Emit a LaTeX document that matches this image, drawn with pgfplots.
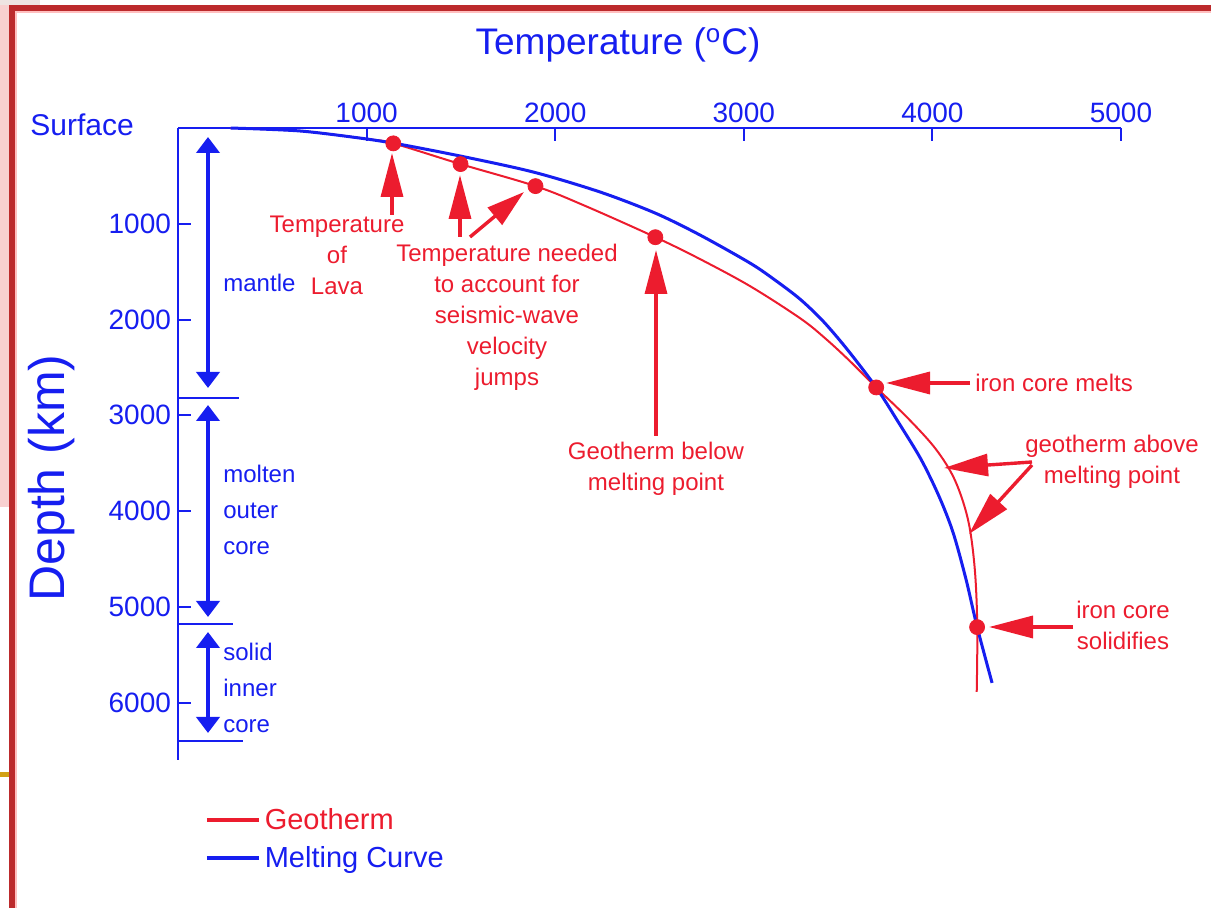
\documentclass[border=0pt]{standalone}
\usepackage{fontspec}
\setmainfont{Liberation Sans}
\usepackage{pgfplots}
\pgfplotsset{compat=1.18}
\usetikzlibrary{arrows.meta}

\definecolor{geored}{RGB}{236,28,46}
\definecolor{melblue}{RGB}{22,30,240}
\definecolor{framered}{RGB}{188,42,44}
\definecolor{framepink}{RGB}{248,208,208}
\definecolor{framepale}{RGB}{238,228,226}
\definecolor{frameyellow}{RGB}{210,160,20}

\begin{document}
\begin{tikzpicture}
\path[use as bounding box] (0,0) rectangle (605.5pt,-454pt);

% slide frame (pixel coordinates, y down)
\begin{scope}[x=0.5pt,y=-0.5pt]
\fill[framepale] (0,0) rectangle (40,5);
\fill[framepink] (0,5) rectangle (9,507);
\fill[frameyellow] (0,772) rectangle (9,777);
\fill[framered] (9,5) rectangle (1211,11);
\fill[framered] (9,5) rectangle (15,908);
\fill[red!25] (15,11) rectangle (17,908);
\fill[red!25] (15,11) rectangle (1211,13);
\end{scope}

\begin{axis}[
  at={(89pt,-380pt)}, anchor=south west,
  scale only axis, width=471.5pt, height=316pt,
  xmin=0, xmax=5000, ymin=0, ymax=6600, y dir=reverse,
  axis x line*=top, axis y line*=left,
  axis line style={melblue, line width=1pt},
  xtick={1000,2000,3000,4000,5000},
  ytick={1000,2000,3000,4000,5000,6000},
  tick align=inside, major tick length=6.5pt,
  tick style={melblue, line width=1pt},
  ticklabel style={font=\fontsize{14}{14}\selectfont, text=melblue},
  xticklabel style={yshift=-1pt},
  /pgf/number format/assume math mode=true,
  /pgf/number format/1000 sep={},
  clip=false,
  legend style={at={(axis cs:140,7060)}, anchor=north west, draw=none, fill=none,
    font=\fontsize{14.5}{14.5}\selectfont, row sep=3pt, inner sep=0pt},
  legend cell align=left,
  legend image code/.code={\draw[#1, line width=2pt] (0pt,0pt) -- (26pt,0pt);},
]
\addplot[geored, line width=1pt, smooth, tension=0.55] table {
T D
279.5 0
650.3 31.4
1003.7 115.1
1141.5 160.2
1498 376.6
1895.4 606.7
2149.7 805.4
2531.1 1140.1
2769.5 1370.3
3034.4 1652.7
3299.3 1987.4
3431.8 2196.6
3564.2 2437.2
3702.0 2709.1
3876.8 3043.9
4019.9 3357.7
4120.0 3680.0
4190.0 4100.0
4225.0 4612.9
4238.0 5215.0
4235.0 5889.0
};
\addlegendentry{\textcolor{geored}{Geotherm}}
\addplot[melblue, line width=1.5pt, smooth, tension=0.5] table {
T D
279.5 0
650.3 31.4
1003.7 115.1
1141.5 156.9
1498 292.9
1884.8 460.2
2239.7 669.4
2531.1 889.1
2769.5 1119.2
3034.4 1412.1
3166.9 1589.9
3299.3 1788.7
3421.2 2018.8
3548.3 2311.7
3702.0 2709.1
3823.8 3085.7
3940.4 3462.3
4035.8 3849.3
4109.9 4225.8
4178.8 4717.5
4237.0 5209.1
4316.5 5794.8
};
\addlegendentry{\textcolor{melblue}{Melting Curve}}
\addplot[forget plot, only marks, mark=*, mark size=3.75pt, geored] table {
T D
1141.5 160.2
1498 376.6
1895.4 606.7
2531.1 1140.1
3702.0 2709.1
4237.0 5212.0
};
% layer boundaries
\addplot[forget plot, melblue, line width=1pt] coordinates {(0,2817) (322,2817)};
\addplot[forget plot, melblue, line width=1pt] coordinates {(0,5178) (290,5178)};
\addplot[forget plot, melblue, line width=1pt] coordinates {(0,6398) (343,6398)};
\end{axis}

\begin{scope}[x=0.5pt,y=-0.5pt,
  redarrow/.style={geored, line width=1.7pt, -{Triangle[width=11pt,length=22pt]}},
  bluearrow/.style={melblue, line width=2.2pt, {Triangle[width=11.5pt,length=8pt]}-{Triangle[width=11.5pt,length=8pt]}},
  redtxt/.style={text=geored, font=\fontsize{12}{15.5}\selectfont, align=center, inner sep=0pt},
  bluetxt/.style={text=melblue, font=\fontsize{12}{18}\selectfont, align=left, anchor=west, inner sep=0pt}]
% titles
\node[text=melblue, font=\fontsize{18.5}{18.5}\selectfont] at (618,45) {Temperature (\textsuperscript{o}C)};
\node[text=melblue, font=\fontsize{25}{25}\selectfont, rotate=90] at (52,478) {Depth (km)};
\node[text=melblue, font=\fontsize{15}{15}\selectfont, anchor=west, inner sep=0pt] at (30,125) {Surface};
% layer arrows and labels
\draw[bluearrow] (208,137) -- (208,388);
\draw[bluearrow] (208,405) -- (208,617);
\draw[bluearrow] (208,632) -- (208,733);
\node[bluetxt] at (223,283) {mantle};
\node[bluetxt] at (223,510) {molten\\outer\\core};
\node[bluetxt] at (223,688) {solid\\inner\\core};
% red annotations
\draw[redarrow] (392,215) -- (392,153);
\draw[redarrow] (460,237) -- (460,175);
\draw[geored, line width=1.7pt, -{Triangle[width=11pt,length=19pt]}] (470,237) -- (524,192);
\draw[redarrow] (656,436) -- (656,250);
\draw[redarrow] (970,383) -- (886,383);
\draw[redarrow] (1032,462) -- (944,468);
\draw[redarrow] (1032,465) -- (969,534);
\draw[redarrow] (1073,627) -- (989,627);
\node[redtxt] at (337,255) {Temperature\\of\\Lava};
\node[redtxt] at (507,317) {Temperature needed\\to account for\\seismic-wave\\velocity\\jumps};
\node[redtxt] at (656,469) {Geotherm below\\melting point};
\node[redtxt, anchor=west] at (975,383) {iron core melts};
\node[redtxt] at (1112,462) {geotherm above\\melting point};
\node[redtxt] at (1123,625) {iron core\\solidifies};
\end{scope}
\end{tikzpicture}
\end{document}
